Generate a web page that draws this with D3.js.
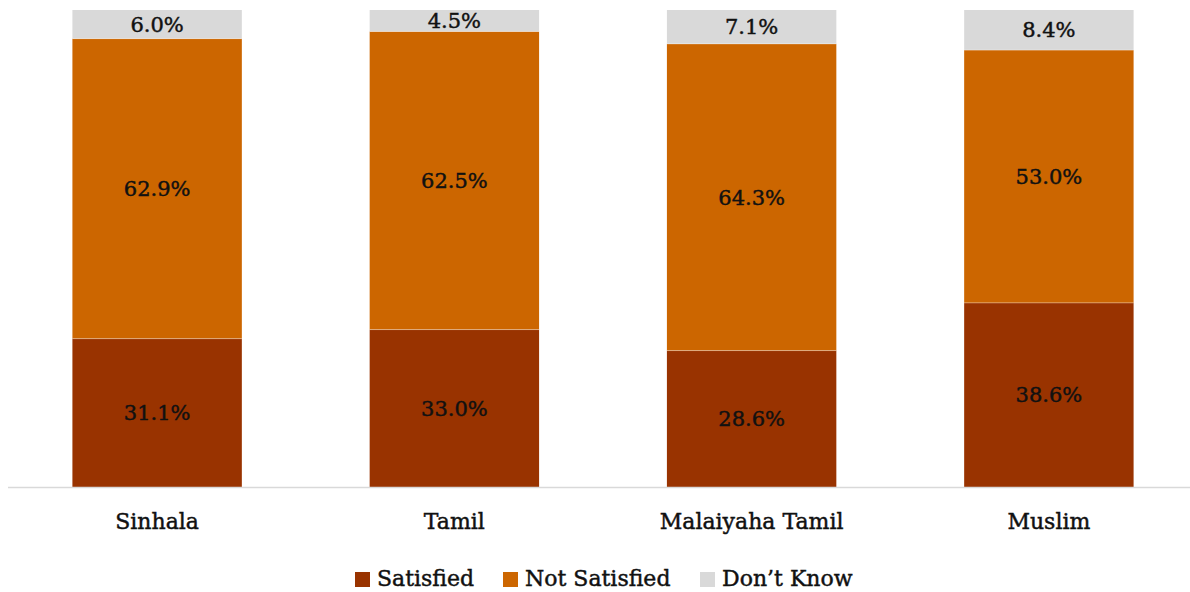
<!DOCTYPE html>
<html>
<head>
<meta charset="utf-8">
<script src="https://cdn.jsdelivr.net/npm/d3@7"></script>
<style>
  body { margin: 0; background: #fff; }
  text { stroke: #111; stroke-width: 0.45px; }
</style>
</head>
<body>
<div id="chart"></div>
<script>
const categories = ["Sinhala", "Tamil", "Malaiyaha Tamil", "Muslim"];
const seriesNames = ["Satisfied", "Not Satisfied", "Don\u2019t Know"];
const satisfied = [31.1, 33.0, 28.6, 38.6];
const notSatisfied = [62.9, 62.5, 64.3, 53.0];
const dontKnow = [6.0, 4.5, 7.1, 8.4];
const colors = ["#993300", "#CC6600", "#D9D9D9"];

function init() {
    const w = 1190;
    const h = 592;

    const rows = categories.map((c, i) => ({
        cat: c,
        "Satisfied": satisfied[i],
        "Not Satisfied": notSatisfied[i],
        "Don\u2019t Know": dontKnow[i]
    }));
    const stacked = d3.stack().keys(seriesNames)(rows);

    const x = d3.scaleBand()
        .domain(categories)
        .range([8.5, 1197.5])
        .paddingInner(0.43)
        .paddingOuter(0.215);

    const y = d3.scaleLinear()
        .domain([0, 100])
        .range([487, 10]);

    const svg = d3.select("#chart")
        .append("svg")
        .attr("width", w)
        .attr("height", h);

    // stacked bars
    const groups = svg.selectAll("g.series")
        .data(stacked)
        .enter()
        .append("g")
        .attr("class", "series")
        .attr("fill", (d, i) => colors[i]);

    groups.selectAll("rect")
        .data(d => d)
        .enter()
        .append("rect")
        .attr("x", d => x(d.data.cat))
        .attr("y", d => y(d[1]))
        .attr("width", x.bandwidth())
        .attr("height", d => y(d[0]) - y(d[1]));

    // thin separator lines between segments
    groups.filter((d, i) => i > 0).selectAll("line")
        .data(d => d)
        .enter()
        .append("line")
        .attr("x1", d => x(d.data.cat))
        .attr("x2", d => x(d.data.cat) + x.bandwidth())
        .attr("y1", d => y(d[0]))
        .attr("y2", d => y(d[0]))
        .attr("stroke", "#ffffff")
        .attr("stroke-opacity", 0.35)
        .attr("stroke-width", 1);

    // value labels
    groups.selectAll("text")
        .data(d => d)
        .enter()
        .append("text")
        .attr("x", d => x(d.data.cat) + x.bandwidth() / 2)
        .attr("y", d => (y(d[0]) + y(d[1])) / 2)
        .attr("dy", "0.35em")
        .attr("text-anchor", "middle")
        .attr("font-family", "'DejaVu Serif', serif")
        .attr("font-size", "21px")
        .attr("fill", "#111")
        .text(d => (d[1] - d[0]).toFixed(1) + "%");

    // x axis line
    svg.append("line")
        .attr("x1", 8)
        .attr("x2", 1190)
        .attr("y1", 487.5)
        .attr("y2", 487.5)
        .attr("stroke", "#D9D9D9")
        .attr("stroke-width", 1.5);

    // category labels
    svg.selectAll("text.cat")
        .data(categories)
        .enter()
        .append("text")
        .attr("class", "cat")
        .attr("x", d => x(d) + x.bandwidth() / 2)
        .attr("y", 529)
        .attr("text-anchor", "middle")
        .attr("font-family", "'DejaVu Serif', serif")
        .attr("font-size", "22px")
        .attr("fill", "#111")
        .text(d => d);

    // legend
    const legendX = [355, 503, 700];
    const legend = svg.selectAll("g.legend")
        .data(seriesNames)
        .enter()
        .append("g")
        .attr("class", "legend")
        .attr("transform", (d, i) => `translate(${legendX[i]},572)`);

    legend.append("rect")
        .attr("width", 15)
        .attr("height", 15)
        .attr("fill", (d, i) => colors[i]);

    legend.append("text")
        .attr("x", 22)
        .attr("y", 14)
        .attr("font-family", "'DejaVu Serif', serif")
        .attr("font-size", "22px")
        .attr("fill", "#111")
        .text(d => d);
}

window.onload = init;
</script>
</body>
</html>
